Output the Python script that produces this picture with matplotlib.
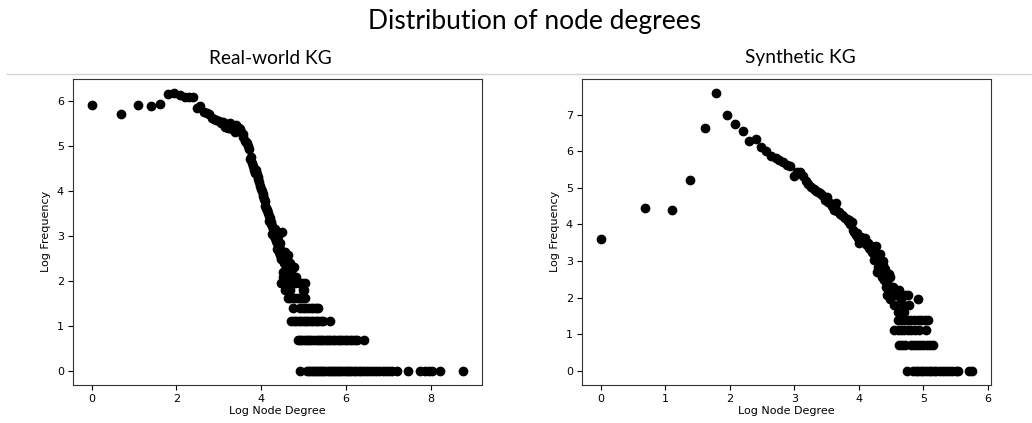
import numpy as np
import matplotlib.pyplot as plt
from matplotlib.lines import Line2D

plt.rcParams['font.family'] = ['DejaVu Sans']

# ---- Real-world KG: log degree vs log frequency ----
real_curve_x = [0.00, 0.69, 1.10, 1.39, 1.61, 1.79, 1.95, 2.08, 2.20, 2.30,
                2.40, 2.48, 2.56, 2.64, 2.71, 2.77, 2.83, 2.89, 2.94, 3.00,
                3.04, 3.09, 3.14, 3.18, 3.22, 3.26, 3.30, 3.33, 3.37, 3.40,
                3.43, 3.47, 3.50, 3.53, 3.56, 3.58, 3.61, 3.64, 3.66, 3.69,
                3.71, 3.74, 3.76, 3.78, 3.81, 3.83, 3.85, 3.87, 3.89, 3.91,
                3.93, 3.95, 3.97, 3.99, 4.01, 4.03, 4.04, 4.06, 4.08, 4.09,
                4.11, 4.13, 4.14, 4.16, 4.17, 4.19, 4.20, 4.22, 4.23, 4.25,
                4.26, 4.28, 4.29, 4.30, 4.32, 4.33, 4.34, 4.36, 4.37, 4.38,
                4.39, 4.41, 4.42, 4.43, 4.44, 4.45, 4.47, 4.48]
real_curve_y = [5.91, 5.70, 5.91, 5.87, 5.93, 6.15, 6.17, 6.12, 6.09, 6.08,
                6.08, 5.83, 5.88, 5.75, 5.72, 5.70, 5.62, 5.60, 5.57, 5.55,
                5.50, 5.52, 5.42, 5.47, 5.40, 5.50, 5.36, 5.44, 5.30, 5.45,
                5.42, 5.40, 5.36, 5.30, 5.25, 5.20, 5.10, 5.09, 5.05, 5.00,
                4.92, 4.70, 4.75, 4.62, 4.55, 4.46, 4.40, 4.45, 4.36, 4.30,
                4.25, 4.19, 4.11, 4.04, 3.99, 3.93, 3.87, 3.81, 3.76, 3.66,
                3.61, 3.56, 3.58, 3.50, 3.43, 3.33, 3.40, 3.30, 3.26, 3.22,
                3.04, 3.14, 3.00, 3.09, 2.94, 3.14, 2.89, 2.94, 2.83, 2.71,
                3.00, 2.77, 2.64, 2.83, 2.56, 2.71, 2.48, 3.09]

real_levels = [2.64, 2.56, 2.48, 2.40, 2.30, 2.20, 2.08, 1.95, 1.79, 1.61,
               1.39, 1.10, 0.69, 0.00]
real_level_x = [
    [4.49, 4.56],
    [4.52, 4.63],
    [4.60],
    [4.54, 4.67],
    [4.58, 4.74, 4.78],
    [4.50, 4.62, 4.70],
    [4.51, 4.58, 4.66, 4.73, 4.82],
    [4.46, 4.55, 4.64, 4.72, 4.80, 4.88, 4.95, 5.02],
    [4.56, 4.60, 4.68, 4.98, 5.00],
    [4.63, 4.68, 4.74, 4.80, 4.86, 4.92, 4.97, 5.02],
    [4.74, 4.92, 4.98, 5.04, 5.10, 5.16, 5.22, 5.28, 5.33],
    [4.71, 4.76, 4.82, 4.88, 4.94, 5.00, 5.05, 5.11, 5.16, 5.22, 5.28,
     5.34, 5.40, 5.45, 5.61],
    [4.86, 4.91, 4.97, 5.02, 5.08, 5.13, 5.18, 5.24, 5.30, 5.35, 5.41,
     5.46, 5.52, 5.57, 5.62, 5.68, 5.74, 5.80, 5.86, 5.91, 5.97, 6.02,
     6.08, 6.14, 6.20, 6.26, 6.43],
    [4.92, 5.08, 5.12, 5.17, 5.22, 5.27, 5.31, 5.36, 5.41, 5.46, 5.51,
     5.56, 5.61, 5.66, 5.71, 5.76, 5.81, 5.86, 5.91, 5.96, 6.01, 6.06,
     6.12, 6.18, 6.24, 6.30, 6.36, 6.42, 6.48, 6.55, 6.62, 6.70, 6.78,
     6.86, 6.93, 7.00, 7.08, 7.20, 7.46, 7.73, 7.86, 7.95, 8.03, 8.21,
     8.76],
]

# ---- Synthetic KG ----
syn_curve_x = [0.00, 0.69, 1.10, 1.39, 1.61, 1.79, 1.95, 2.08, 2.20, 2.30,
               2.40, 2.48, 2.56, 2.64, 2.71, 2.77, 2.83, 2.89, 2.94, 3.00,
               3.04, 3.09, 3.14, 3.18, 3.22, 3.26, 3.30, 3.33, 3.37, 3.40,
               3.43, 3.47, 3.50, 3.53, 3.56, 3.58, 3.61, 3.64, 3.66, 3.69,
               3.71, 3.74, 3.76, 3.78, 3.81, 3.83, 3.85, 3.87, 3.89, 3.91,
               3.93, 3.95, 3.97, 3.99, 4.01, 4.03, 4.04, 4.06, 4.08, 4.09,
               4.11, 4.13, 4.14, 4.16, 4.17, 4.19, 4.20, 4.22, 4.23, 4.25,
               4.26, 4.28, 4.29, 4.30, 4.32, 4.33, 4.34, 4.36, 4.37, 4.38,
               4.39, 4.41, 4.42, 4.43, 4.44, 4.45, 4.47, 4.48, 4.49, 4.50]
syn_curve_y = [3.60, 4.46, 4.39, 5.23, 6.63, 7.60, 7.01, 6.75, 6.56, 6.29,
               6.33, 6.11, 6.02, 5.88, 5.82, 5.76, 5.72, 5.62, 5.61, 5.33,
               5.45, 5.45, 5.33, 5.20, 5.12, 5.02, 4.96, 4.92, 4.88, 4.86,
               4.80, 4.68, 4.76, 4.62, 4.58, 4.50, 4.40, 4.58, 4.36, 4.33,
               4.28, 4.25, 4.22, 4.17, 4.14, 4.09, 4.11, 4.00, 4.06, 3.85,
               3.80, 3.71, 3.76, 3.64, 3.50, 3.58, 3.66, 3.61, 3.56, 3.63,
               3.47, 3.43, 3.50, 3.37, 3.33, 3.40, 3.26, 3.22, 3.04, 3.14,
               3.40, 2.71, 3.09, 2.83, 2.94, 3.18, 2.64, 2.56, 2.89, 3.00,
               2.48, 2.77, 2.30, 2.08, 2.40, 2.20, 2.64, 1.95, 2.56, 2.30]

syn_levels = [2.30, 2.20, 2.08, 1.95, 1.79, 1.61, 1.39, 1.10, 0.69, 0.00]
syn_level_x = [
    [4.53],
    [4.62],
    [4.58, 4.72, 4.76],
    [4.66, 4.91],
    [4.55, 4.68, 4.78],
    [4.60, 4.70],
    [4.60, 4.65, 4.70, 4.75, 4.80, 4.86, 4.92, 4.97, 5.02, 5.07],
    [4.55, 4.60, 4.65, 4.70, 4.76, 4.81, 4.87, 4.93, 5.04],
    [4.63, 4.67, 4.71, 4.81, 4.85, 4.90, 4.95, 5.00, 5.05, 5.10, 5.15],
    [4.74, 4.84, 4.88, 4.92, 4.96, 5.00, 5.04, 5.08, 5.12, 5.16, 5.20,
     5.25, 5.30, 5.35, 5.40, 5.45, 5.50, 5.54, 5.70, 5.76],
]


def collect(cx, cy, levels, level_x):
    xs = list(cx)
    ys = list(cy)
    for lv, row in zip(levels, level_x):
        xs += row
        ys += [lv] * len(row)
    return xs, ys


fig = plt.figure(figsize=(10.32, 4.23), dpi=100)
ax1 = fig.add_axes([0.0707, 0.091, 0.3963, 0.722])
ax2 = fig.add_axes([0.564, 0.091, 0.3963, 0.722])

for ax, data in [(ax1, collect(real_curve_x, real_curve_y, real_levels, real_level_x)),
                 (ax2, collect(syn_curve_x, syn_curve_y, syn_levels, syn_level_x))]:
    ax.scatter(data[0], data[1], s=36, color='black')
    ax.set_xlabel('Log Node Degree', fontsize=8, labelpad=2)
    ax.set_ylabel('Log Frequency', fontsize=8, labelpad=4)
    ax.tick_params(labelsize=8, pad=3)
    for s in ax.spines.values():
        s.set_color('#333333')

fig.text(535 / 1032, 1 - 22 / 423, 'Distribution of node degrees', fontsize=19,
         family='Lato', ha='center', va='center')
fig.text(270 / 1032, 1 - 58 / 423, 'Real-world KG', fontsize=13.8,
         family='Lato', ha='center', va='center')
fig.text(800 / 1032, 1 - 58 / 423, 'Synthetic KG', fontsize=13.8,
         family='Lato', ha='center', va='center')
fig.add_artist(Line2D([7 / 1032, 1.0], [1 - 74 / 423, 1 - 74 / 423],
                      color='#d4d4d4', lw=1))

fig.savefig('out.png', dpi=100)
